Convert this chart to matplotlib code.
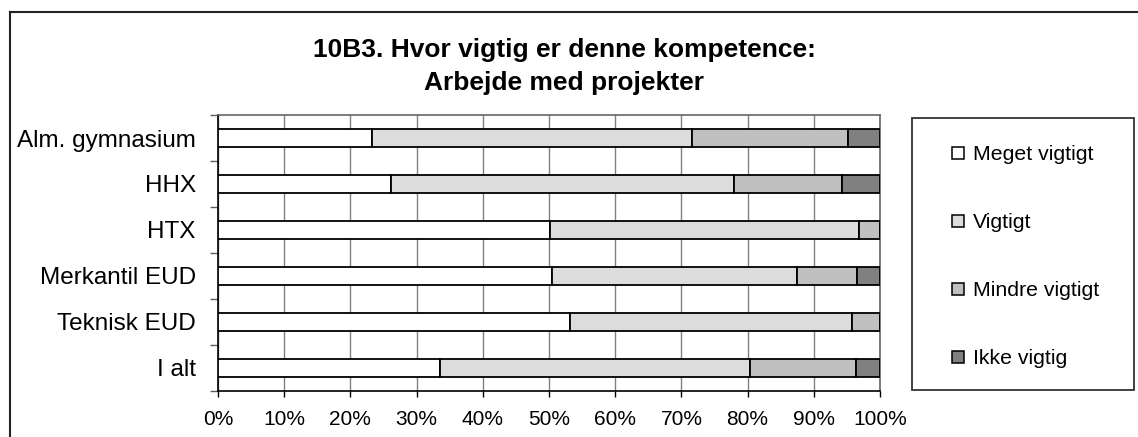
import numpy as np
import matplotlib
matplotlib.use("Agg")
import matplotlib.pyplot as plt
from matplotlib import font_manager
from matplotlib.patches import Rectangle
from matplotlib.lines import Line2D

plt.rcParams["font.family"] = ["Liberation Sans", "DejaVu Sans"]

# ── data (share of answers, %) ────────────────────────────────────────────────
categories = ["Alm. gymnasium", "HHX", "HTX", "Merkantil EUD", "Teknisk EUD", "I alt"]
series     = ["Meget vigtigt", "Vigtigt", "Mindre vigtigt", "Ikke vigtig"]
meget   = [23.2, 26.2, 50.1, 50.5, 53.1, 33.5]
vigtigt = [48.4, 51.7, 46.8, 37.0, 42.7, 46.9]
mindre  = [23.5, 16.3,  3.1,  9.1,  4.2, 16.0]
ikke    = [ 4.9,  5.8,  0.0,  3.4,  0.0,  3.6]
xticks  = [0, 10, 20, 30, 40, 50, 60, 70, 80, 90, 100]

colors = ["#ffffff", "#dcdcdc", "#c0c0c0", "#808080"]
title = "10B3. Hvor vigtig er denne kompetence:\nArbejde med projekter"

# the original text is drawn tall and narrow; use the narrow face if present
names = {f.name for f in font_manager.fontManager.ttflist}
if "Liberation Sans Narrow" in names:
    narrow, tick_fs, leg_fs = "Liberation Sans Narrow", 18, 18.5
else:
    narrow, tick_fs, leg_fs = "Liberation Sans", 15, 15.3

W, H = 1138, 437


def fx(px):
    return px / W


def fy(py):
    return 1 - py / H


fig = plt.figure(figsize=(W / 100, H / 100), dpi=100)
ax = fig.add_axes([fx(218), fy(391), fx(880) - fx(218), fy(115) - fy(391)])

ypos = np.arange(len(categories))
left = np.zeros(len(categories))
for vals, col in zip([meget, vigtigt, mindre, ikke], colors):
    vals = np.asarray(vals)
    ax.barh(ypos, vals, left=left, height=0.37, color=col,
            edgecolor="black", linewidth=1.3, zorder=3)
    left += vals

ax.set_xlim(0, 100)
ax.set_ylim(len(categories) - 0.5, -0.5)
ax.set_xticks(xticks)
ax.set_xticklabels([f"{t}%" for t in xticks], fontsize=tick_fs, family=narrow)
ax.tick_params(axis="x", direction="out", length=4, width=1, pad=10, color="black")
ax.set_yticks(ypos)
ax.set_yticklabels(categories, fontsize=17.5)
ax.tick_params(axis="y", which="major", length=0, pad=16)
ax.set_yticks(np.arange(-0.5, len(categories)), minor=True)
ax.tick_params(axis="y", which="minor", direction="out", length=6, width=1,
               color="#606060")
ax.grid(axis="x", color="#808080", lw=1, zorder=0)
ax.grid(axis="y", visible=False)
for s in ["left", "bottom"]:
    ax.spines[s].set_color("black")
    ax.spines[s].set_linewidth(1.2)
for s in ["top", "right"]:
    ax.spines[s].set_color("#666666")
    ax.spines[s].set_linewidth(1.2)

# ── title ─────────────────────────────────────────────────────────────────────
line1, line2 = title.split("\n")
fig.text(fx(564), fy(57), line1, ha="center", va="baseline",
         fontsize=19, fontweight="bold")
fig.text(fx(564), fy(90), line2, ha="center", va="baseline",
         fontsize=19, fontweight="bold")

# ── legend box drawn by hand to match the layout ─────────────────────────────
lx0, ly0, lx1, ly1 = 912, 118, 1134, 390
fig.add_artist(Rectangle((fx(lx0), fy(ly1)), fx(lx1) - fx(lx0), fy(ly0) - fy(ly1),
                         transform=fig.transFigure, facecolor="white",
                         edgecolor="#333333", lw=1.3))
n = len(series)
for i, (lab, col) in enumerate(zip(series, colors)):
    yc = ly0 + (ly1 - ly0) * (i + 0.5) / n
    fig.add_artist(Rectangle((fx(952), fy(yc + 7)), fx(12), 12 / H,
                             transform=fig.transFigure, facecolor=col,
                             edgecolor="black", lw=1.1))
    fig.text(fx(973), fy(yc + 8), lab, ha="left", va="baseline",
             fontsize=leg_fs, family=narrow)

# ── outer chart frame (cut off at right and bottom) ──────────────────────────
fig.add_artist(Line2D([fx(10), fx(10)], [0, fy(12)], transform=fig.transFigure,
                      color="#222222", lw=1.5))
fig.add_artist(Line2D([fx(10), 1], [fy(12), fy(12)], transform=fig.transFigure,
                      color="#222222", lw=1.5))

fig.savefig("out.png", dpi=100)
